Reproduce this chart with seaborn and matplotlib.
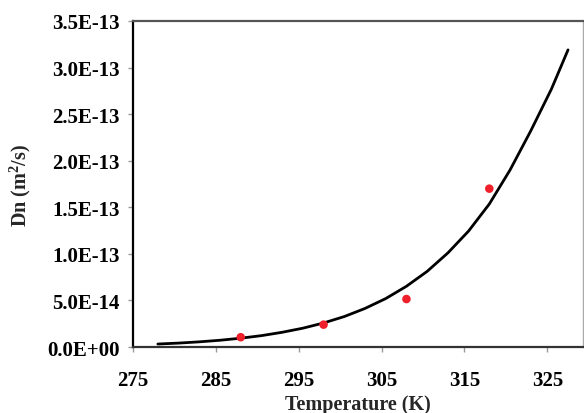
import numpy as np
import pandas as pd
import matplotlib
matplotlib.use('Agg')
import matplotlib.pyplot as plt
import seaborn as sns
from matplotlib.ticker import FormatStrFormatter, MultipleLocator

# measured points
temp_meas = [288, 298, 308, 318]
dn_meas = [1.05e-14, 2.4e-14, 5.15e-14, 1.70e-13]

# fitted curve
temp_fit = [278, 280.5, 283, 285.5, 288, 290.5, 293, 295.5, 298, 300.5, 303,
            305.5, 308, 310.5, 313, 315.5, 318, 320.5, 323, 325.5, 327.5]
dn_fit = [3.2e-15, 4.2e-15, 5.55e-15, 7.25e-15, 9.45e-15, 1.22e-14, 1.58e-14,
          2.02e-14, 2.58e-14, 3.27e-14, 4.14e-14, 5.2e-14, 6.52e-14, 8.12e-14,
          1.01e-13, 1.245e-13, 1.535e-13, 1.9e-13, 2.32e-13, 2.77e-13, 3.19e-13]

xticks = [275, 285, 295, 305, 315, 325]

sns.set_style('white')
plt.rcParams['font.family'] = ['Liberation Serif', 'DejaVu Serif']
plt.rcParams['font.weight'] = 'bold'
plt.rcParams['mathtext.default'] = 'regular'

fit = pd.DataFrame({'T': temp_fit, 'Dn': dn_fit})
meas = pd.DataFrame({'T': temp_meas, 'Dn': dn_meas})

fig = plt.figure(figsize=(5.84, 4.14), dpi=100)
ax = fig.add_axes([0.2277, 0.1594, 0.7705, 0.7875])

sns.lineplot(data=fit, x='T', y='Dn', color='black', linewidth=2, ax=ax)
sns.scatterplot(data=meas, x='T', y='Dn', color='#f0202a', s=38,
                edgecolor='none', zorder=3, ax=ax)

ax.set_xlim(275, 329.3)
ax.set_ylim(0, 3.5e-13)
ax.set_xticks(xticks)
ax.yaxis.set_major_locator(MultipleLocator(5e-14))
ax.yaxis.set_major_formatter(FormatStrFormatter('%.1E'))

ax.tick_params(axis='both', labelsize=15, colors='#999999', labelcolor='black',
               length=3.6, width=1, direction='out')
ax.tick_params(axis='x', pad=13)
ax.tick_params(axis='y', pad=6)
ax.tick_params(left=True, bottom=True)
for lab in ax.get_xticklabels() + ax.get_yticklabels():
    lab.set_fontweight('bold')

ax.set_xlabel('Temperature (K)', fontsize=14.5, fontweight='bold', labelpad=3)
ax.set_ylabel('Dn (m$^{2}$/s)', fontsize=14.5, fontweight='bold', labelpad=10)

ax.spines['left'].set_color('black')
ax.spines['left'].set_linewidth(1.6)
ax.spines['bottom'].set_color('#333333')
ax.spines['bottom'].set_linewidth(1.6)
ax.spines['top'].set_color('#555555')
ax.spines['top'].set_linewidth(1.6)
ax.spines['right'].set_color('#aaaaaa')
ax.spines['right'].set_linewidth(1)

fig.savefig('out.png', dpi=100)
